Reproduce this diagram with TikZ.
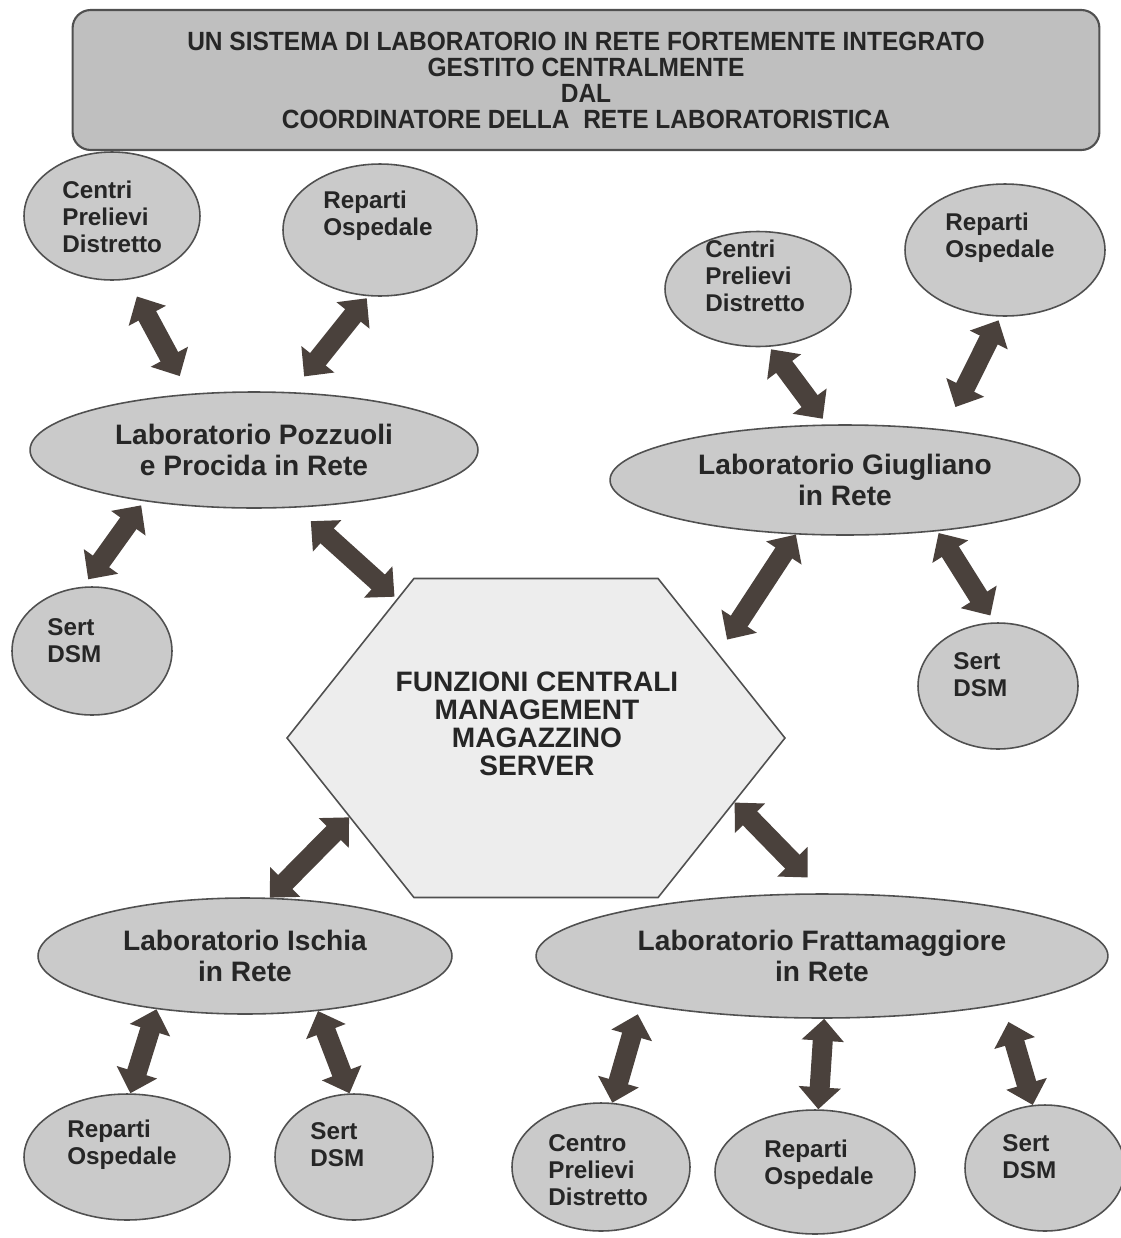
\documentclass[tikz,border=0pt]{standalone}
\usepackage{fontspec}
\setmainfont{Liberation Sans}
\newfontfamily\headfont[FakeStretch=0.93]{Liberation Sans}
\usetikzlibrary{arrows.meta,shapes.geometric,shapes.symbols}

\definecolor{ovalgray}{HTML}{CACACA}
\definecolor{boxgray}{HTML}{BFBFBF}
\definecolor{hexgray}{HTML}{EDEDED}
\definecolor{arrowbrown}{HTML}{4A413C}
\definecolor{edgegray}{HTML}{505050}

\tikzset{
  oval/.style={ellipse, draw=edgegray, line width=0.9pt, fill=ovalgray, inner sep=0pt},
  labtext/.style={font=\bfseries\fontsize{16}{17.6}\selectfont, align=center, text=black!85},
  ovaltext/.style={font=\bfseries\fontsize{13.8}{15.4}\selectfont, align=left, inner sep=0pt, anchor=west, text=black!85},
  biarrow/.style={draw=arrowbrown, line width=0.4cm,
    {Triangle[width=0.82cm,length=0.44cm]}-{Triangle[width=0.82cm,length=0.44cm]}},
}

\begin{document}
\begin{tikzpicture}[x=0.02cm, y=-0.02cm]
  \useasboundingbox (0,0) rectangle (1121,1238);
  % heading box
  \node[draw=edgegray, line width=1.2pt, fill=boxgray, rounded corners=0.36cm,
    minimum width=20.54cm, minimum height=2.8cm, align=center, text=black!85,
    font=\headfont\bfseries\fontsize{15}{14.8}\selectfont] (title) at (586,80)
    {UN SISTEMA DI LABORATORIO IN RETE FORTEMENTE INTEGRATO\\GESTITO CENTRALMENTE\\DAL\\COORDINATORE DELLA\ \ RETE LABORATORISTICA};
  % central functions
  \node[signal, signal to=west and east, signal pointer angle=103, draw=edgegray,
    line width=0.9pt, fill=hexgray, minimum width=9.96cm, minimum height=6.38cm,
    inner sep=0pt] (centrale) at (536,738) {};
  \node[align=center, text=black!85, inner sep=0pt,
    font=\bfseries\fontsize{16}{15.9}\selectfont] (centraleT) at (537,724)
    {FUNZIONI CENTRALI\\MANAGEMENT\\MAGAZZINO\\SERVER};
  % Pozzuoli group
  \node[oval, minimum width=8.96cm, minimum height=2.32cm, labtext] (pozzuoli) at (254,450) {Laboratorio Pozzuoli\\e Procida in Rete};
  \node[oval, minimum width=3.52cm, minimum height=2.56cm] (cpdA) at (112,216) {};
  \node[ovaltext] (cpdAt) at (62,217) {Centri\\Prelievi\\Distretto};
  \node[oval, minimum width=3.88cm, minimum height=2.64cm] (ropA) at (380,230) {};
  \node[ovaltext] (ropAt) at (323,216) {Reparti\\Ospedale};
  \node[oval, minimum width=3.2cm, minimum height=2.56cm] (sertA) at (92,651) {};
  \node[ovaltext] (sertAt) at (47,641) {Sert\\DSM};
  % Giugliano group
  \node[oval, minimum width=9.4cm, minimum height=2.2cm, labtext] (giugliano) at (845,480) {Laboratorio Giugliano\\in Rete};
  \node[oval, minimum width=3.72cm, minimum height=2.3cm] (cpdB) at (758,289) {};
  \node[ovaltext] (cpdBt) at (705,276) {Centri\\Prelievi\\Distretto};
  \node[oval, minimum width=4cm, minimum height=2.64cm] (ropB) at (1005,250) {};
  \node[ovaltext] (ropBt) at (945,238) {Reparti\\Ospedale};
  \node[oval, minimum width=3.2cm, minimum height=2.52cm] (sertB) at (998,686) {};
  \node[ovaltext] (sertBt) at (953,675) {Sert\\DSM};
  % Ischia group
  \node[oval, minimum width=8.28cm, minimum height=2.32cm, labtext] (ischia) at (245,956) {Laboratorio Ischia\\in Rete};
  \node[oval, minimum width=4.12cm, minimum height=2.52cm] (ropC) at (127,1157) {};
  \node[ovaltext] (ropCt) at (67,1145) {Reparti\\Ospedale};
  \node[oval, minimum width=3.16cm, minimum height=2.52cm] (sertC) at (354,1157) {};
  \node[ovaltext] (sertCt) at (310,1145) {Sert\\DSM};
  % Frattamaggiore group
  \node[oval, minimum width=11.44cm, minimum height=2.48cm, labtext] (fratta) at (822,956) {Laboratorio Frattamaggiore\\in Rete};
  \node[oval, minimum width=3.56cm, minimum height=2.56cm] (cpdD) at (601,1167) {};
  \node[ovaltext] (cpdDt) at (548,1170) {Centro\\Prelievi\\Distretto};
  \node[oval, minimum width=4cm, minimum height=2.48cm] (ropD) at (815,1172) {};
  \node[ovaltext] (ropDt) at (764,1165) {Reparti\\Ospedale};
  \node[oval, minimum width=3.2cm, minimum height=2.52cm] (sertD) at (1045,1168) {};
  \node[ovaltext] (sertDt) at (1002,1157) {Sert\\DSM};
  % two-way links
  \draw[biarrow, shorten <=0.38cm, shorten >=0.4cm] (cpdA.-76) -- (pozzuoli.139);
  \draw[biarrow, shorten <=0.05cm, shorten >=0.4cm] (ropA.-100) -- (pozzuoli.57);
  \draw[biarrow, shorten <=0.1cm, shorten >=0.18cm] (pozzuoli.-155) -- (sertA.98);
  \draw[biarrow, shorten <=0.4cm, shorten >=0.06cm] (pozzuoli.-54) -- (centrale.135);
  \draw[biarrow, shorten <=0.06cm, shorten >=0.14cm] (cpdB.-79) -- (giugliano.108);
  \draw[biarrow, shorten <=0.08cm, shorten >=0.5cm] (ropB.-94) -- (giugliano.27);
  \draw[biarrow, shorten >=0.32cm] (giugliano.-132) -- (centrale.25);
  \draw[biarrow, shorten <=0.04cm, shorten >=0.16cm] (giugliano.-29) -- (sertB.93);
  \draw[biarrow] (centrale.-157) -- (ischia.67);
  \draw[biarrow, shorten >=0.44cm] (centrale.-18) -- (fratta.89);
  \draw[biarrow] (ischia.-149) -- (ropC.87);
  \draw[biarrow] (ischia.-37) -- (sertC.94);
  \draw[biarrow, shorten <=0.2cm] (fratta.-165) -- (cpdD.80);
  \draw[biarrow] (fratta.-88) -- (ropD.87);
  \draw[biarrow, shorten <=0.36cm] (fratta.-15) -- (sertD.101);
\end{tikzpicture}
\end{document}
